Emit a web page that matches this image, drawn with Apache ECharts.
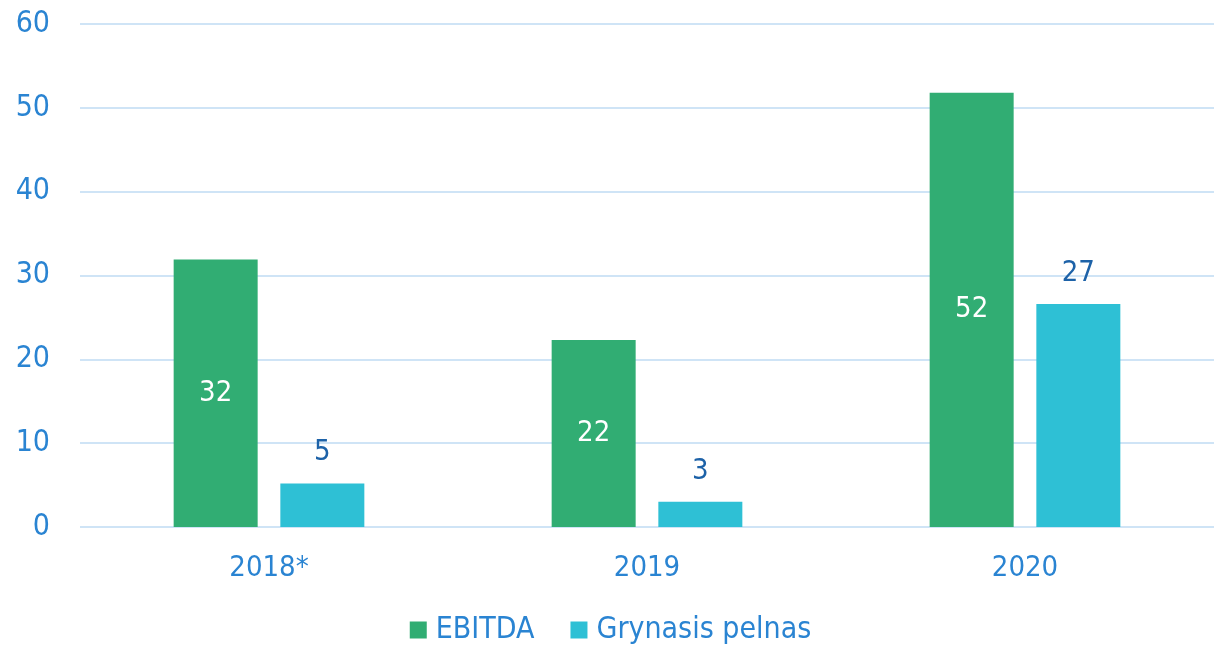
<!DOCTYPE html>
<html>
<head>
<meta charset="utf-8">
<script src="https://cdn.jsdelivr.net/npm/echarts@6/dist/echarts.min.js"></script>
<style>
  html, body { margin: 0; padding: 0; background: #fff; }
  #chart { width: 1221px; height: 646px; }
</style>
</head>
<body>
<div id="chart"></div>
<script>
// data
var years = ['2018*', '2019', '2020'];
var ebitda = [31.9, 22.3, 51.8];
var netProfit = [5.2, 3.0, 26.6];
var yTicks = [0, 10, 20, 30, 40, 50, 60];

var font = 'DejaVu Sans Condensed';
var blue = '#2a84d2';

var chart = echarts.init(document.getElementById('chart'));

var options = {
    animation: false,
    grid: { left: 80, right: 7, top: 24, bottom: 119, containLabel: false },
    legend: {
        top: 610,
        left: 'center',
        itemWidth: 17,
        itemHeight: 17,
        itemGap: 36,
        icon: 'rect',
        textStyle: { color: blue, fontFamily: font, fontSize: 30, padding: [0, 0, 0, 4] },
        data: ['EBITDA', 'Grynasis pelnas']
    },
    xAxis: {
        type: 'category',
        data: years,
        axisLine: { show: false },
        axisTick: { show: false },
        axisLabel: { color: blue, fontFamily: font, fontSize: 29, margin: 27 }
    },
    yAxis: {
        type: 'value',
        min: yTicks[0],
        max: yTicks[yTicks.length - 1],
        interval: 10,
        axisLine: { show: false },
        axisTick: { show: false },
        axisLabel: { color: blue, fontFamily: font, fontSize: 30, margin: 30 },
        splitLine: { lineStyle: { color: '#cfe4f6', width: 2 } }
    },
    series: [
        {
            name: 'EBITDA',
            type: 'bar',
            data: ebitda,
            barWidth: 84,
            barGap: '27%',
            itemStyle: { color: '#31ad73' },
            label: {
                show: true,
                position: 'inside',
                color: '#ffffff',
                fontFamily: font,
                fontSize: 29,
                formatter: function (p) { return Math.round(p.value); }
            }
        },
        {
            name: 'Grynasis pelnas',
            type: 'bar',
            data: netProfit,
            barWidth: 84,
            itemStyle: { color: '#2ec0d5' },
            label: {
                show: true,
                position: 'top',
                distance: 16,
                color: '#1d62a8',
                fontFamily: font,
                fontSize: 29,
                formatter: function (p) { return Math.round(p.value); }
            }
        }
    ]
};

chart.setOption(options);
</script>
</body>
</html>
